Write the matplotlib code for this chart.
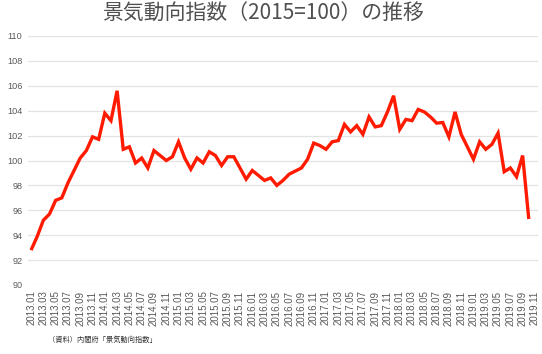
import matplotlib.pyplot as plt

plt.rcParams['font.family'] = ['Liberation Sans', 'Noto Sans CJK JP', 'DejaVu Sans']

# monthly categories 2013.01 .. 2019.11 (last one has no value yet)
months = [f"{y}.{m:02d}" for y in range(2013, 2020) for m in range(1, 13)][:83]

ci = [92.8, 93.9, 95.2, 95.7, 96.8, 97.0, 98.2, 99.2, 100.2, 100.8,
      101.9, 101.7, 103.8, 103.2, 105.6, 100.9, 101.1, 99.8, 100.2, 99.4,
      100.8, 100.4, 100.0, 100.3, 101.5, 100.2, 99.3, 100.2, 99.8, 100.7,
      100.4, 99.6, 100.3, 100.3, 99.4, 98.5, 99.2, 98.8, 98.4, 98.6,
      98.0, 98.4, 98.9, 99.15, 99.4, 100.1, 101.4, 101.2, 100.9, 101.5,
      101.6, 102.9, 102.3, 102.8, 102.1, 103.5, 102.7, 102.8, 103.9, 105.2,
      102.5, 103.3, 103.2, 104.1, 103.9, 103.5, 103.0, 103.05, 101.9, 103.9,
      102.1, 101.1, 100.1, 101.5, 100.9, 101.3, 102.2, 99.1, 99.4, 98.7,
      100.4, 95.3]

title = "景気動向指数（2015=100）の推移"
source = "（資料）内閣府「景気動向指数」"

txt_col = '#595959'

fig = plt.figure(figsize=(5.42, 3.54), dpi=100)
ax = fig.add_axes([28 / 542, 69 / 354, 510 / 542, 249 / 354])

ax.plot(range(len(ci)), ci, color='#ff1a00', lw=2.4, solid_joinstyle='miter',
        solid_capstyle='butt', zorder=3)

ax.set_xlim(-0.5, len(months) - 0.5)
ax.set_ylim(90, 110)
ax.set_yticks(range(90, 111, 2))
ax.set_xticks(range(0, len(months), 2))
ax.set_xticklabels(months[::2], rotation=90, fontsize=7, color=txt_col)
ax.tick_params(axis='y', labelsize=6.6, colors=txt_col, length=0, pad=4)
ax.tick_params(axis='x', length=0, pad=4)
ax.grid(axis='y', color='#e3e3e3', lw=0.9)
ax.set_axisbelow(True)
for s in ax.spines.values():
    s.set_visible(False)

fig.text(263 / 542, 1 - 12.5 / 354, title, ha='center', va='center',
         fontsize=15, color='#505050', family=['Noto Sans CJK JP'])
fig.text(48 / 542, 1 - 340 / 354, source, ha='left', va='center',
         fontsize=5.2, color='#333333', family=['Noto Sans CJK JP'])

fig.savefig('out.png', dpi=100)
